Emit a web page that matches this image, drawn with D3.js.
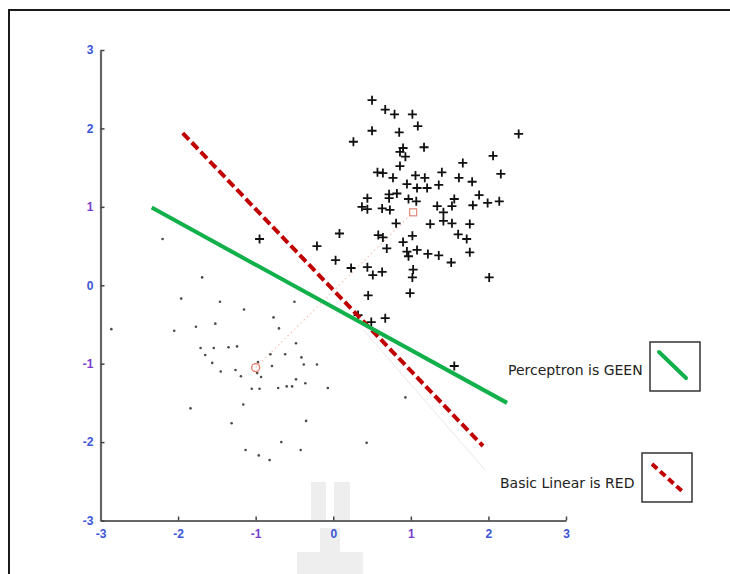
<!DOCTYPE html>
<html lang="en">
<head>
<meta charset="UTF-8">
<title>Perceptron vs Basic Linear</title>
<script src="https://d3js.org/d3.v7.min.js"></script>
<style>
    html, body { margin: 0; height: 100%; overflow: hidden; background: #fff; }
</style>
</head>
<body>
<svg id="svg"></svg>
<script>
    // class +1 (plus markers)
    const plusX = [0.50, 0.67, 0.79, 1.02, 1.09, 0.50, 0.85, 0.26, 2.39, 0.90, 0.86, 0.93, 1.17, 0.86, 2.06, 1.67,
        0.57, 0.64, 0.77, 1.06, 1.18, 1.40, 1.62, 1.79, 2.16, 0.95, 1.08, 1.21, 1.36, 1.88, 2.14, 1.99,
        1.80, 1.56, 0.72, 0.82, 0.72, 0.44, 0.97, 1.07, 1.34, 0.37, 0.44, 0.63, 0.73, 1.42, 1.53, 0.81,
        1.25, 1.42, 1.53, 1.76, 0.08, -0.21, 0.58, 0.64, 0.69, 0.90, 1.02, 0.95, 1.08, 0.97, 1.22, 1.36,
        1.52, 1.61, 1.72, 1.76, 0.03, 0.23, 0.44, 0.51, 0.63, 1.03, 1.02, 2.01, 0.45, 0.99, 0.67, 0.49,
        0.32, -0.95, 1.56];
    const plusY = [2.36, 2.24, 2.18, 2.18, 2.03, 1.97, 1.95, 1.83, 1.93, 1.75, 1.70, 1.64, 1.76, 1.52, 1.65, 1.56,
        1.44, 1.43, 1.37, 1.40, 1.37, 1.44, 1.37, 1.32, 1.42, 1.29, 1.24, 1.24, 1.28, 1.15, 1.07, 1.05,
        1.02, 1.10, 1.16, 1.17, 1.11, 1.11, 1.10, 1.07, 1.01, 1.00, 0.97, 0.98, 0.96, 0.93, 1.01, 0.79,
        0.78, 0.82, 0.79, 0.78, 0.66, 0.50, 0.64, 0.61, 0.47, 0.55, 0.63, 0.43, 0.45, 0.37, 0.40, 0.38,
        0.29, 0.65, 0.59, 0.42, 0.32, 0.22, 0.23, 0.13, 0.17, 0.20, 0.10, 0.10, -0.13, -0.10, -0.42, -0.47,
        -0.38, 0.59, -1.03];

    // class -1 (dots)
    const dotX = [-2.20, -2.86, -1.69, -1.96, -1.46, -1.15, -0.50, -0.77, -0.70, -1.52, -1.77, -2.05, -0.48,
        -1.71, -1.54, -1.35, -1.24, -1.65, -0.81, -0.62, -0.41, -1.56, -0.97, -0.79, -0.38, -0.21,
        -1.45, -1.26, -1.19, -0.98, -0.93, -0.48, -0.36, -1.05, -0.95, -0.71, -0.60, -0.53, -0.07,
        -1.16, -1.84, -0.35, -1.31, -0.67, -1.13, -0.42, -0.96, -0.82, 0.43, 0.93];
    const dotY = [0.59, -0.56, 0.10, -0.17, -0.21, -0.31, -0.21, -0.41, -0.55, -0.49, -0.53, -0.58, -0.74,
        -0.80, -0.80, -0.79, -0.78, -0.89, -0.88, -0.88, -0.92, -0.99, -0.98, -1.03, -1.01, -1.01,
        -1.10, -1.08, -1.16, -1.12, -1.17, -1.20, -1.25, -1.32, -1.32, -1.31, -1.29, -1.29, -1.31,
        -1.52, -1.57, -1.73, -1.76, -2.00, -2.10, -2.10, -2.17, -2.23, -2.01, -1.43];

    // class means
    const meanNeg = [-1.00, -1.05];
    const meanPos = [1.03, 0.93];

    // separating lines (endpoints)
    const perceptronLine = [[-2.34, 0.99], [2.24, -1.50]];
    const linearLine = [[-1.94, 1.94], [1.93, -2.05]];
    const faintLine = [[0.39, -0.57], [1.96, -2.36]];

    const ticks = [-3, -2, -1, 0, 1, 2, 3];
    const legendLabels = ['Perceptron is GEEN', 'Basic Linear is RED'];

    const W = 730, H = 574;
    const svg = d3.select('#svg').attr('width', W).attr('height', H);

    // outer frame
    svg.append('rect')
        .attr('x', 9).attr('y', 10).attr('width', W + 20).attr('height', H + 20)
        .attr('fill', 'none').attr('stroke', '#1a1a1a').attr('stroke-width', 2);

    // faint watermark
    const wm = svg.append('g').attr('fill', '#eeeeee');
    wm.append('rect').attr('x', 311).attr('y', 482).attr('width', 15).attr('height', 38);
    wm.append('rect').attr('x', 334).attr('y', 482).attr('width', 16).attr('height', 38);
    wm.append('rect').attr('x', 297).attr('y', 552).attr('width', 66).attr('height', 22);
    wm.append('rect').attr('x', 320).attr('y', 528).attr('width', 20).attr('height', 24);

    const x = d3.scaleLinear().domain([-3, 3]).range([100.5, 566]);
    const y = d3.scaleLinear().domain([-3, 3]).range([520.5, 50]);

    const tickColor = d => (Math.abs(d) === 1 ? '#7a3cd0' : '#3a55d6');

    const xAxis = svg.append('g')
        .attr('transform', `translate(0,${y(-3)})`)
        .call(d3.axisBottom(x).tickValues(ticks).tickSizeInner(-4).tickSizeOuter(0).tickPadding(9)
            .tickFormat(d => String(d)));
    const yAxis = svg.append('g')
        .attr('transform', `translate(${x(-3)},0)`)
        .call(d3.axisLeft(y).tickValues(ticks).tickSizeInner(-4).tickSizeOuter(0).tickPadding(7)
            .tickFormat(d => String(d)));

    [xAxis, yAxis].forEach(a => {
        a.select('.domain').attr('stroke', '#666').attr('stroke-width', 2.2);
        a.selectAll('.tick line').attr('stroke', '#444').attr('stroke-width', 1.5);
        a.selectAll('.tick text')
            .attr('fill', tickColor)
            .style('font-family', '"Liberation Sans", Arial, sans-serif')
            .style('font-size', '12px')
            .style('font-weight', 'bold');
    });

    const line = d3.line().x(d => x(d[0])).y(d => y(d[1]));

    // faint helper lines
    svg.append('path').datum(faintLine).attr('d', line)
        .attr('stroke', '#e8e8e8').attr('stroke-width', 1).attr('fill', 'none');
    svg.append('path').datum([meanNeg, meanPos]).attr('d', line)
        .attr('stroke', '#f6c6b8').attr('stroke-width', 1.2).attr('stroke-dasharray', '1.5,3')
        .attr('fill', 'none');

    // dots
    svg.append('g').selectAll('circle').data(dotX.map((v, i) => [v, dotY[i]])).join('circle')
        .attr('cx', d => x(d[0])).attr('cy', d => y(d[1])).attr('r', 1.3)
        .attr('fill', '#4a4a4a');

    // plus markers
    svg.append('g').selectAll('path').data(plusX.map((v, i) => [v, plusY[i]])).join('path')
        .attr('transform', d => `translate(${x(d[0])},${y(d[1])})`)
        .attr('d', 'M-4.5,0H4.5M0,-4.5V4.5')
        .attr('stroke', '#111').attr('stroke-width', 1.8).attr('fill', 'none');

    // means
    svg.append('circle').attr('cx', x(meanNeg[0])).attr('cy', y(meanNeg[1])).attr('r', 4)
        .attr('fill', 'none').attr('stroke', '#f07a68').attr('stroke-width', 1.3);
    svg.append('rect').attr('x', x(meanPos[0]) - 3.5).attr('y', y(meanPos[1]) - 3.5)
        .attr('width', 7).attr('height', 7)
        .attr('fill', 'none').attr('stroke', '#e08a78').attr('stroke-width', 1.2);

    // decision lines
    svg.append('path').datum(linearLine).attr('d', line)
        .attr('stroke', '#c00000').attr('stroke-width', 4).attr('stroke-dasharray', '9,4')
        .attr('fill', 'none');
    svg.append('path').datum(perceptronLine).attr('d', line)
        .attr('stroke', '#12b04a').attr('stroke-width', 4).attr('fill', 'none');

    // legend
    const legend = [
        { label: legendLabels[0], tx: 508, ty: 375, bx: 650, by: 342, color: '#12b04a', dash: null,
          l: [[659, 352], [686, 378]] },
        { label: legendLabels[1], tx: 500, ty: 488, bx: 642, by: 453, color: '#c00000', dash: '7,4',
          l: [[652, 464], [683, 492]] }
    ];
    const lg = svg.append('g').selectAll('g').data(legend).join('g');
    lg.append('text')
        .attr('x', d => d.tx).attr('y', d => d.ty)
        .style('font-family', '"DejaVu Sans", Verdana, sans-serif')
        .style('font-size', '14px')
        .attr('fill', '#222')
        .text(d => d.label);
    lg.append('rect')
        .attr('x', d => d.bx).attr('y', d => d.by).attr('width', 50).attr('height', 49)
        .attr('fill', '#fff').attr('stroke', '#333').attr('stroke-width', 1.5);
    lg.append('path')
        .attr('d', d => `M${d.l[0][0]},${d.l[0][1]}L${d.l[1][0]},${d.l[1][1]}`)
        .attr('stroke', d => d.color).attr('stroke-width', 4)
        .attr('stroke-linecap', d => d.dash ? 'butt' : 'round')
        .attr('stroke-dasharray', d => d.dash)
        .attr('fill', 'none');
</script>
</body>
</html>
